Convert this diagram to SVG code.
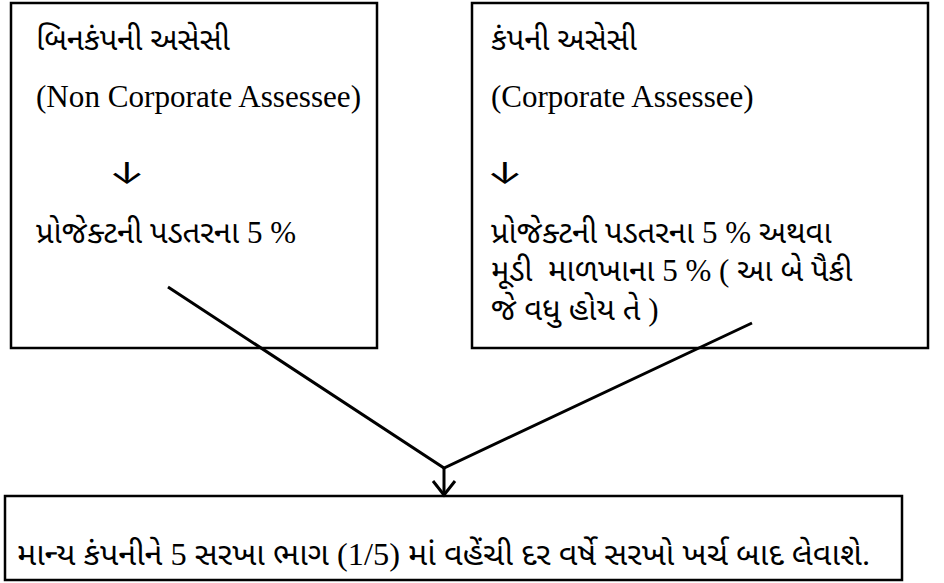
<svg xmlns="http://www.w3.org/2000/svg" width="944" height="583" viewBox="0 0 944 583">
<style>
.box{fill:#fff;stroke:#000;stroke-width:2.5}
.t{font-family:"Liberation Serif","Noto Sans Gujarati","Noto Serif Gujarati","Lohit Gujarati",serif;font-size:31px;fill:#000;white-space:pre}
.e{font-family:"Liberation Serif",serif;font-size:31px;fill:#000}
.arr{font-family:Inter,"DejaVu Sans",sans-serif;font-size:30px;fill:#000}
.c{fill:none;stroke:#000;stroke-width:3}
</style>
<rect width="944" height="583" fill="#fff"/>
<g id="node-noncorp">
<rect class="box" x="11" y="3" width="366" height="345"/>
<text class="t" x="36" y="50">બિનકંપની અસેસી</text>
<text class="e" x="36" y="107" textLength="325" lengthAdjust="spacingAndGlyphs">(Non Corporate Assessee)</text>
<text class="arr" x="0" y="0" text-anchor="middle" transform="translate(127 184) scale(1.45 1)">↓</text>
<text class="t" x="36" y="243">પ્રોજેક્ટની પડતરના 5 %</text>
</g>
<g id="node-corp">
<rect class="box" x="472" y="3" width="456" height="345"/>
<text class="t" x="491" y="50">કંપની અસેસી</text>
<text class="e" x="491" y="107">(Corporate Assessee)</text>
<text class="arr" x="0" y="0" text-anchor="middle" transform="translate(505 184) scale(1.45 1)">↓</text>
<text class="t" x="491" y="243">પ્રોજેક્ટની પડતરના 5 % અથવા</text>
<text class="t" x="491" y="281">મૂડી  માળખાના 5 % ( આ બે પૈકી</text>
<text class="t" x="491" y="320">જે વધુ હોય તે )</text>
</g>
<g id="node-result">
<rect class="box" x="5" y="496" width="897" height="84"/>
<text class="t" x="17" y="565" style="font-size:32px" textLength="853" lengthAdjust="spacingAndGlyphs">માન્ય કંપનીને 5 સરખા ભાગ (1/5) માં વહેંચી દર વર્ષે સરખો ખર્ચ બાદ લેવાશે.</text>
</g>
<g id="connectors">
<polyline class="c" points="168,287 444,468 752,323"/>
<line class="c" x1="444" y1="468" x2="444" y2="495"/>
<polyline class="c" points="433,481 444,495 455,481"/>
</g>
</svg>
